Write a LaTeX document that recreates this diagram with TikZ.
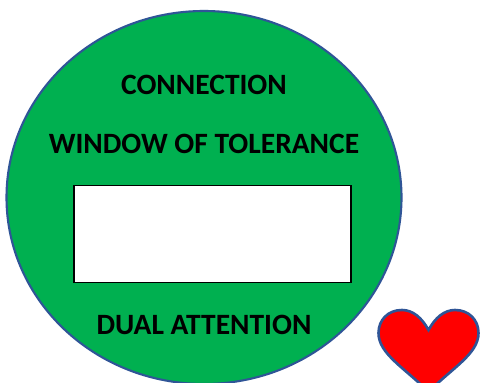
\documentclass[tikz,border=0pt]{standalone}
\usepackage{fontspec}
\setmainfont{Carlito}
\definecolor{disc}{HTML}{00B050}
\definecolor{rim}{HTML}{2F5597}
\tikzset{x=1pt,y=-1pt,
  label text/.style={font=\fontsize{29.5}{32}\selectfont\bfseries,text=black,inner sep=0pt,anchor=center},
  rimline/.style={draw=rim,line width=2.1pt}}
\begin{document}
\begin{tikzpicture}
\path[use as bounding box] (0,0) rectangle (494,382);
\clip (0,0) rectangle (494,382);
\fill[white] (0,0) rectangle (494,382);
\path[fill=disc,rimline] (204,197.5) ellipse [x radius=197.5,y radius=186.5];
\node[label text] (conn) at (204,85) {CONNECTION};
\node[label text] (wot) at (204,144) {WINDOW OF TOLERANCE};
\node[draw=black,fill=white,line width=1.4pt,minimum width=277pt,minimum height=97pt,inner sep=0pt] (win) at (212.5,234) {};
\node[label text] (dual) at (204,325) {DUAL ATTENTION};
\path[fill=red,rimline,line width=2.6pt] (428.5,330)
  .. controls (422,318) and (413,310) .. (402,310)
  .. controls (388,310) and (378.5,320) .. (378.5,333)
  .. controls (378.5,354) and (405,368) .. (428.5,392)
  .. controls (452,368) and (478.5,354) .. (478.5,333)
  .. controls (478.5,320) and (469,310) .. (455,310)
  .. controls (444,310) and (435,318) .. cycle;
\end{tikzpicture}
\end{document}
